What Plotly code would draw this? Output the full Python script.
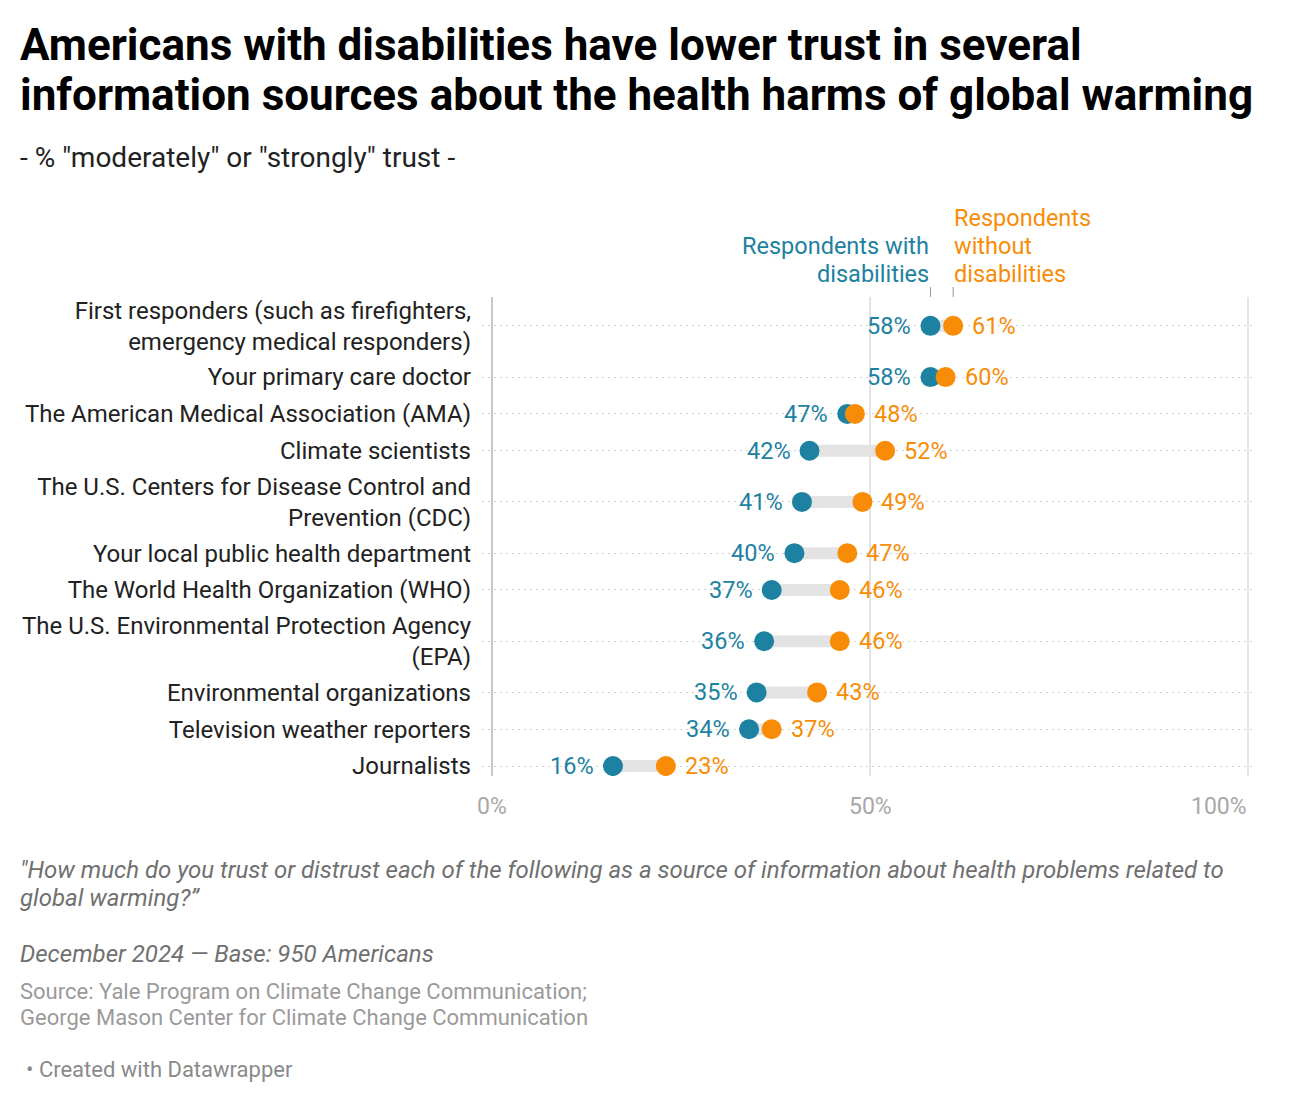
import plotly.graph_objects as go

# data
sources = [
    'First responders (such as firefighters,<br>emergency medical responders)',
    'Your primary care doctor',
    'The American Medical Association (AMA)',
    'Climate scientists',
    'The U.S. Centers for Disease Control and<br>Prevention (CDC)',
    'Your local public health department',
    'The World Health Organization (WHO)',
    'The U.S. Environmental Protection Agency<br>(EPA)',
    'Environmental organizations',
    'Television weather reporters',
    'Journalists',
]
with_disab = [58, 58, 47, 42, 41, 40, 37, 36, 35, 34, 16]
without_disab = [61, 60, 48, 52, 49, 47, 46, 46, 43, 37, 23]
x_ticks = [0, 50, 100]
x_ticklabels = ['0%', '50%', '100%']

BLUE = '#1d81a2'
ORANGE = '#f98c07'
FONT = 'Roboto'

# row positions: two-line labels take more room
pos = []
prev = None
for s in sources:
    h = 66 if '<br>' in s else 37
    if prev is None:
        pos.append(h / 2)
    else:
        pos.append(pos[-1] + prev / 2 + h / 2)
    prev = h

L, R, T, B = 482, 44, 297, 328
W = 1300 - L - R
H = 1104 - T - B


def px(x):
    return (x - L) / W


def py(y):
    return 1 - (y - T) / H


def text_lines(lines, x, y0, step, size, color, anchor='left', xref='paper', italic=False,
               bold=False):
    out = []
    for i, t in enumerate(lines):
        if italic:
            t = f'<i>{t}</i>'
        if bold:
            t = f'<b>{t}</b>'
        out.append(dict(x=x, y=py(y0 + i * step), xref=xref, yref='paper', text=t,
                        showarrow=False, xanchor=anchor, yanchor='middle', borderpad=0,
                        font=dict(size=size, color=color, family=FONT)))
    return out


fig = go.Figure()

# connectors
cx, cy = [], []
for a, b, p in zip(with_disab, without_disab, pos):
    cx += [a, b, None]
    cy += [p, p, None]
fig.add_trace(go.Scatter(x=cx, y=cy, mode='lines',
                         line=dict(color='#e3e3e3', width=12),
                         hoverinfo='skip', showlegend=False))

fig.add_trace(go.Scatter(x=with_disab, y=pos, mode='markers',
                         name='Respondents with disabilities',
                         marker=dict(size=20, color=BLUE), showlegend=False))
fig.add_trace(go.Scatter(x=without_disab, y=pos, mode='markers',
                         name='Respondents without disabilities',
                         marker=dict(size=20, color=ORANGE), showlegend=False))

ann = []
for a, b, p in zip(with_disab, without_disab, pos):
    ann.append(dict(x=a, y=p, xref='x', yref='y', text=f'{a}%', showarrow=False,
                    xanchor='right', xshift=-18, borderpad=0,
                    font=dict(size=23.5, color=BLUE, family=FONT)))
    ann.append(dict(x=b, y=p, xref='x', yref='y', text=f'{b}%', showarrow=False,
                    xanchor='left', xshift=18, borderpad=0,
                    font=dict(size=23.5, color=ORANGE, family=FONT)))

# series labels above the first row
ann += text_lines(['Respondents with', 'disabilities'], with_disab[0], 246, 28, 23.5, BLUE,
                  anchor='right', xref='x')
ann += text_lines(['Respondents', 'without', 'disabilities'], without_disab[0], 218, 28, 23.5,
                  ORANGE, anchor='left', xref='x')

# x tick labels
for i, (v, t) in enumerate(zip(x_ticks, x_ticklabels)):
    ann.append(dict(x=v, y=py(806), xref='x', yref='paper', text=t, showarrow=False,
                    xanchor='right' if i == len(x_ticks) - 1 else 'center',
                    yanchor='middle', borderpad=0,
                    font=dict(size=23, color='#a8a8a8', family=FONT)))

# title, subtitle, notes
ann += text_lines(['Americans with disabilities have lower trust in several',
                   'information sources about the health harms of global warming'],
                  px(19), 45, 50, 44, '#000000', bold=True)
ann += text_lines(['- % "moderately" or "strongly" trust -'], px(19), 157, 0, 28, '#222222')
ann += text_lines(['"How much do you trust or distrust each of the following as a source of '
                   'information about health problems related to',
                   'global warming?”'], px(19), 870, 28, 24, '#707070', italic=True)
ann += text_lines(['December 2024 — Base: 950 Americans'], px(19), 954, 0, 24, '#707070',
                  italic=True)
ann += text_lines(['Source: Yale Program on Climate Change Communication;',
                   'George Mason Center for Climate Change Communication'],
                  px(19), 991, 26, 22, '#9a9a9a')
ann += text_lines(['• Created with Datawrapper'], px(25), 1069, 0, 22, '#8a8a8a')

shapes = []
# small ticks pointing at the first row
for v in [with_disab[0], without_disab[0]]:
    shapes.append(dict(type='line', xref='x', yref='paper', x0=v, x1=v,
                       y0=py(287), y1=py(297), line=dict(color='#999999', width=1)))
# vertical grid lines
for v in x_ticks:
    shapes.append(dict(type='line', xref='x', yref='paper', x0=v, x1=v, y0=0, y1=1,
                       layer='below',
                       line=dict(color='#c8c8c8' if v == 0 else '#e4e4e4', width=2)))

fig.update_layout(
    width=1300, height=1104,
    margin=dict(l=L, r=R, t=T, b=B),
    plot_bgcolor='white', paper_bgcolor='white',
    showlegend=False,
    annotations=ann, shapes=shapes,
    xaxis=dict(range=[-10 / 7.56, 100 + 8 / 7.56], showgrid=False, zeroline=False,
               showticklabels=False, fixedrange=True),
    yaxis=dict(range=[pos[-1] + 10, pos[0] - 29], tickvals=pos, ticktext=sources,
               showgrid=True, gridcolor='#d0d0d0', griddash='2px,4px', gridwidth=1,
               zeroline=False, ticks='', ticklabelstandoff=10, fixedrange=True,
               tickfont=dict(size=24, color='#222222', family=FONT)),
)

fig.write_html('out.html', config={'displayModeBar': False},
               post_script="document.body.style.margin='0px';")
